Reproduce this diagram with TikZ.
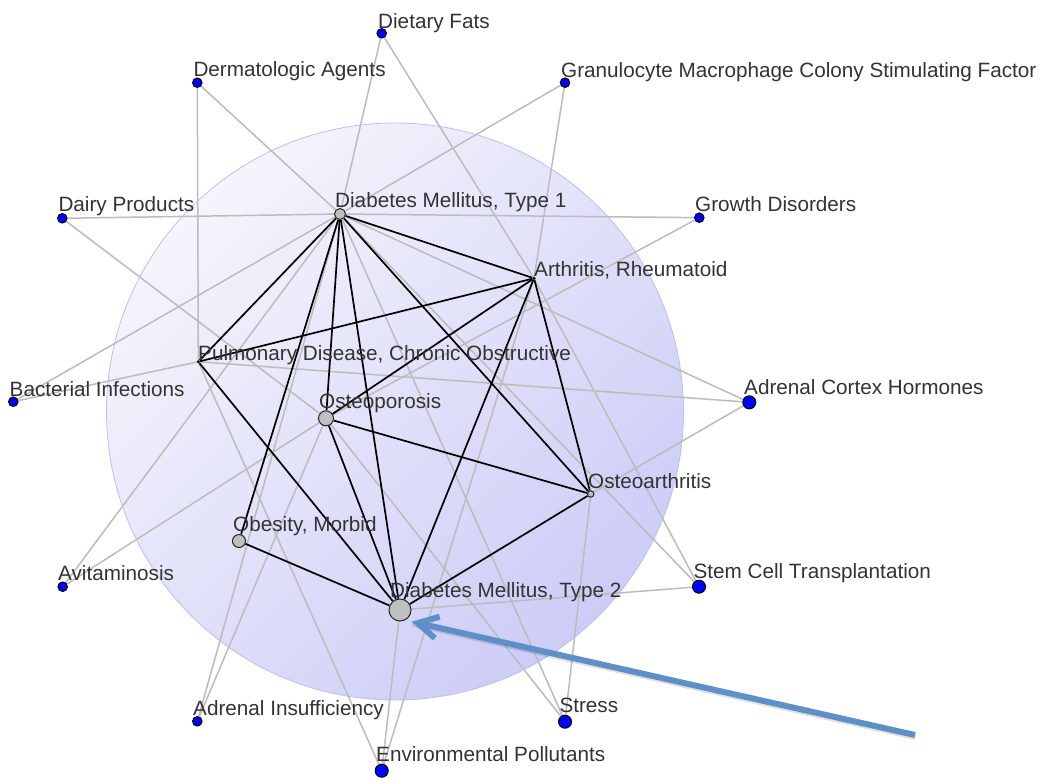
\documentclass[tikz,border=0pt]{standalone}
\usepackage{fontspec}
\setmainfont{Liberation Sans}
\usetikzlibrary{arrows.meta}
\pgfdeclarelayer{bg}
\pgfdeclarelayer{edges}
\pgfsetlayers{bg,edges,main}
\definecolor{nodeblue}{RGB}{0,0,255}
\definecolor{nodegray}{RGB}{192,192,192}
\definecolor{edgegray}{RGB}{188,188,188}
\definecolor{txt}{RGB}{51,51,51}
\definecolor{arrowblue}{RGB}{94,144,200}
\definecolor{disklight}{RGB}{245,245,252}
\definecolor{diskdark}{RGB}{204,204,247}
\definecolor{diskrim}{RGB}{190,190,246}
\tikzset{
  outer/.style={circle, draw=black, line width=1pt, fill=nodeblue, inner sep=0pt, minimum size=9.5pt},
  outerbig/.style={outer, minimum size=13pt},
  core/.style={circle, draw=black!85, line width=1pt, fill=nodegray, inner sep=0pt, minimum size=#1},
  lbl/.style={anchor=base west, inner sep=0pt, text=txt, font=\fontsize{20.7}{24}\selectfont},
  weak/.style={draw=edgegray, line width=1.5pt},
  strong/.style={draw=black, line width=1.7pt},
}
\begin{document}
\begin{tikzpicture}[x=1pt,y=-1pt]
\useasboundingbox (0,0) rectangle (1046,777);
% background disk
\begin{pgfonlayer}{bg}
\fill[white] (0,0) rectangle (1046,777);
\shade[top color=disklight, bottom color=diskdark, shading angle=45] (395,411.5) circle (288.5);
\draw[diskrim, line width=0.8pt] (395,411.5) circle (288.5);
\end{pgfonlayer}
% outer (blue) nodes
\node[outer] (DF) at (381.7,33.3) {};
\node[outer] (DA) at (197.3,82.7) {};
\node[outer] (GM) at (565,82.7) {};
\node[outer] (DP) at (62.3,218.3) {};
\node[outer] (GD) at (699.3,217.7) {};
\node[outer] (BI) at (13.3,401.7) {};
\node[outerbig] (ACH) at (749.3,402.3) {};
\node[outer] (AV) at (62.7,586.7) {};
\node[outerbig] (SCT) at (699,586.7) {};
\node[outer] (AI) at (197.3,721.3) {};
\node[outerbig] (ST) at (565,721.7) {};
\node[outerbig] (EP) at (381.7,770.7) {};
% core (gray) nodes
\node[core=11pt] (DM1) at (340,214) {};
\node[circle, fill=black, inner sep=0pt, minimum size=3.5pt] (AR) at (534,278.3) {};
\node[circle, fill=black, inner sep=0pt, minimum size=3.5pt] (COPD) at (198.3,361.7) {};
\node[core=15pt] (OP) at (326,418.3) {};
\node[core=6.5pt] (OA) at (590.7,494) {};
\node[core=13pt] (OB) at (239,541) {};
\node[core=22pt] (DM2) at (400,610) {};
% edges
\begin{pgfonlayer}{edges}
\draw[weak] (DF) -- (DM1);  \draw[weak] (DF) -- (AR);
\draw[weak] (DA) -- (COPD); \draw[weak] (DA) -- (DM1);
\draw[weak] (GM) -- (DM1);  \draw[weak] (GM) -- (AR);
\draw[weak] (DP) -- (DM1);  \draw[weak] (DP) -- (OP);
\draw[weak] (GD) -- (DM1);  \draw[weak] (GD) -- (OP);
\draw[weak] (BI) -- (DM1);  \draw[weak] (BI) -- (COPD);
\draw[weak] (ACH) -- (COPD); \draw[weak] (ACH) -- (DM1); \draw[weak] (ACH) -- (OA);
\draw[weak] (AV) -- (DM1);  \draw[weak] (AV) -- (OP);
\draw[weak] (SCT) -- (DM2); \draw[weak] (SCT) -- (DM1); \draw[weak] (SCT) -- (AR);
\draw[weak] (AI) -- (DM1);  \draw[weak] (AI) -- (OP);
\draw[weak] (ST) -- (DM1);  \draw[weak] (ST) -- (OP); \draw[weak] (ST) -- (OA);
\draw[weak] (EP) -- (DM2);  \draw[weak] (EP) -- (AR); \draw[weak] (EP) -- (COPD);
\draw[strong] (DM1) -- (COPD); \draw[strong] (DM1) -- (OB); \draw[strong] (DM1) -- (OP);
\draw[strong] (DM1) -- (DM2);  \draw[strong] (DM1) -- (OA); \draw[strong] (DM1) -- (AR);
\draw[strong] (AR) -- (COPD);  \draw[strong] (AR) -- (OP);  \draw[strong] (AR) -- (DM2);
\draw[strong] (AR) -- (OA);
\draw[strong] (COPD) -- (DM2);
\draw[strong] (OP) -- (OA);    \draw[strong] (OP) -- (DM2);
\draw[strong] (OB) -- (DM2);
\draw[strong] (OA) -- (DM2);
\end{pgfonlayer}
% labels
\node[lbl] (lDF) at (378,28.3) {Dietary Fats};
\node[lbl] (lDA) at (193.3,76.7) {Dermatologic Agents};
\node[lbl] (lGM) at (561,77.3) {Granulocyte Macrophage Colony Stimulating Factor};
\node[lbl] (lDP) at (58.3,211.7) {Dairy Products};
\node[lbl] (lDM1) at (335,207.3) {Diabetes Mellitus, Type 1};
\node[lbl] (lGD) at (695,211.7) {Growth Disorders};
\node[lbl] (lAR) at (534,276) {Arthritis, Rheumatoid};
\node[lbl] (lCOPD) at (198,360) {Pulmonary Disease, Chronic Obstructive};
\node[lbl] (lBI) at (9.5,396) {Bacterial Infections};
\node[lbl] (lACH) at (744,394) {Adrenal Cortex Hormones};
\node[lbl] (lOP) at (319,408) {Osteoporosis};
\node[lbl] (lOA) at (588,488) {Osteoarthritis};
\node[lbl] (lOB) at (233,531.7) {Obesity, Morbid};
\node[lbl] (lAV) at (58,580) {Avitaminosis};
\node[lbl] (lDM2) at (390,597) {Diabetes Mellitus, Type 2};
\node[lbl] (lSCT) at (693.3,578.3) {Stem Cell Transplantation};
\node[lbl] (lAI) at (193,715) {Adrenal Insufficiency};
\node[lbl] (lST) at (559.3,712.7) {Stress};
\node[lbl] (lEP) at (376,761.7) {Environmental Pollutants};
% pointer arrow
\coordinate (tail) at (915,735);
\coordinate (tip) at (411.7,621.7);
\draw[black, opacity=0.12, line width=6pt] ([shift={(0.5,2)}]tail) -- ([shift={(0.5,2)}]tip);
\draw[arrowblue, line width=6pt, -{Straight Barb[length=20pt, width=22pt]}] (tail) -- (tip);
\end{tikzpicture}
\end{document}
